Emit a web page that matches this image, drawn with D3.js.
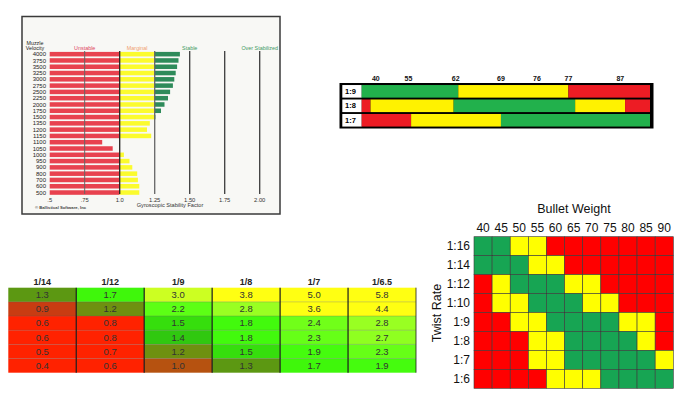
<!DOCTYPE html>
<meta charset="utf-8">
<style>
  body { margin: 0; background: #fff; }
  text { font-family: "Liberation Sans", Arial, sans-serif; }
</style>
<body>
<script src="https://cdn.jsdelivr.net/npm/d3@7"></script>
<script>

// ---- chart 1: gyroscopic stability by muzzle velocity
var velocities = ["4000","3750","3500","3250","3000","2750","2500","2250","2000","1750","1500",
                  "1350","1200","1150","1100","1050","1000","950","900","800","700","600","500"];
var stability = [1.43,1.42,1.41,1.40,1.39,1.38,1.36,1.345,1.32,1.295,1.255,
                 1.215,1.195,1.225,0.875,0.95,1.03,1.07,1.09,1.125,1.13,1.14,1.14];
var sgTicks = [0.5,0.75,1.0,1.25,1.5,1.75,2.0];
var sgTickLabels = [".5",".75","1.0","1.25","1.50","1.75","2.00"];
var zones = [
  {name:"Unstable", at:0.75, color:"#e0465e"},
  {name:"Marginal", at:1.125, color:"#f0a070"},
  {name:"Stable", at:1.5, color:"#3e9a64"},
  {name:"Over Stabilized", at:2.0, color:"#3e9a64"}
];

// ---- chart 2: twist vs bullet weight strips
var twists2 = ["1:9","1:8","1:7"];
var weightTicks = [40,55,62,69,76,77,87];
var strips = {
  "1:9": [["g",36,62.4],["y",62.4,77],["r",77,92]],
  "1:8": [["r",36,38.5],["y",38.5,61.7],["g",61.7,78.3],["y",78.3,87.8],["r",87.8,92]],
  "1:7": [["r",36,55.4],["y",55.4,69],["g",69,92]]
};

// ---- chart 3: stability table
var tableCols = ["1/14","1/12","1/9","1/8","1/7","1/6.5"];
var tableRows = [
  [1.3,1.7,3.0,3.8,5.0,5.8],
  [0.9,1.2,2.2,2.8,3.6,4.4],
  [0.6,0.8,1.5,1.8,2.4,2.8],
  [0.6,0.8,1.4,1.8,2.3,2.7],
  [0.5,0.7,1.2,1.5,1.9,2.3],
  [0.4,0.6,1.0,1.3,1.7,1.9]
];

// ---- chart 4: twist rate x bullet weight grid
var weights4 = ["40","45","50","55","60","65","70","75","80","85","90"];
var twists4 = ["1:16","1:14","1:12","1:10","1:9","1:8","1:7","1:6"];
var grid4 = [
  "GGYYRRRRRRR",
  "GGGYYRRRRRR",
  "RYGGGYYRRRR",
  "RYYGGGYYRRR",
  "RRYYGGGGYYR",
  "RRRYYGGGGYR",
  "RRRYYGGGGGY",
  "RRRRYYYGGGG"
];

var svg = d3.select("body").append("svg")
  .attr("width",680)
  .attr("height",394);

// ================= chart 1
var g1 = svg.append("g");

g1.append("rect")
  .attr("x",22).attr("y",16.5)
  .attr("width",258).attr("height",197.5)
  .attr("fill","#f8f8f5")
  .attr("stroke","#3a3a3a")
  .attr("stroke-width",1.5);

var x1 = d3.scaleLinear().domain([0.5,2.0]).range([49.7,259.7]);
var y1 = d3.scaleBand().domain(velocities).range([51.9,194.8]).paddingInner(0.28);

var segs1 = [];
velocities.forEach(function(v,i){
  var s = stability[i];
  segs1.push({v:v, a:0.5, b:Math.min(s,1.0), c:"#e8424f"});
  if (s > 1.0) segs1.push({v:v, a:1.0, b:Math.min(s,1.25), c:"#fbfb2e"});
  if (s > 1.25) segs1.push({v:v, a:1.25, b:s, c:"#2e8b5a"});
});

g1.selectAll("rect.seg")
  .data(segs1)
  .enter().append("rect")
    .attr("class","seg")
    .attr("x",function(d){ return x1(d.a); })
    .attr("y",function(d){ return y1(d.v); })
    .attr("width",function(d){ return x1(d.b) - x1(d.a); })
    .attr("height",y1.bandwidth())
    .attr("fill",function(d){ return d.c; });

g1.selectAll("line.grid")
  .data(sgTicks.slice(1))
  .enter().append("line")
    .attr("x1",function(d){ return x1(d); })
    .attr("x2",function(d){ return x1(d); })
    .attr("y1",51)
    .attr("y2",194)
    .attr("stroke",function(d){ return d === 1.0 ? "#222" : (d === 0.75 || d === 1.25 ? "#666" : "#3c3c3c"); })
    .attr("stroke-width",function(d){ return d === 0.75 ? 1 : 1.3; });

g1.selectAll("text.vel")
  .data(velocities)
  .enter().append("text")
    .attr("x",46)
    .attr("y",function(d){ return y1(d) + y1.bandwidth() / 2 + 2.1; })
    .attr("text-anchor","end")
    .attr("font-size",6)
    .attr("fill","#222")
    .text(function(d){ return d; });

g1.append("text").attr("x",35).attr("y",44.5).attr("text-anchor","middle")
  .attr("font-size",5.3).attr("fill","#222").text("Muzzle");
g1.append("text").attr("x",35).attr("y",50).attr("text-anchor","middle")
  .attr("font-size",5.3).attr("fill","#222").text("Velocity");

g1.selectAll("text.zone")
  .data(zones)
  .enter().append("text")
    .attr("x",function(d){ return x1(d.at); })
    .attr("y",50)
    .attr("text-anchor","middle")
    .attr("font-size",5.4)
    .attr("fill",function(d){ return d.color; })
    .text(function(d){ return d.name; });

g1.selectAll("text.tick")
  .data(sgTicks)
  .enter().append("text")
    .attr("x",function(d){ return x1(d); })
    .attr("y",201.5)
    .attr("text-anchor","middle")
    .attr("font-size",5.8)
    .attr("fill","#333")
    .text(function(d,i){ return sgTickLabels[i]; });

g1.append("text").attr("x",170).attr("y",207).attr("text-anchor","middle")
  .attr("font-size",5.6).attr("fill","#333").text("Gyroscopic Stability Factor");
g1.append("text").attr("x",35).attr("y",208.5)
  .attr("font-size",4.2).attr("font-weight","bold").attr("fill","#444").text("\u00a9 Ballistical Software, Inc");

// ================= chart 2
var g2 = svg.append("g");
var x2 = d3.scaleLinear()
  .domain([36].concat(weightTicks).concat([92]))
  .range([0,0.049,0.162,0.326,0.483,0.608,0.717,0.897,1].map(function(f){ return 361.7 + f * 288.3; }));
var y2 = d3.scaleBand().domain(twists2).range([84.6,127]).paddingInner(0.13).paddingOuter(0.03);
var col2 = {g:"#22b14c", y:"#fff200", r:"#ed1c24"};

g2.append("rect")
  .attr("x",339.5).attr("y",83)
  .attr("width",314).attr("height",45.5)
  .attr("fill","#000");

g2.selectAll("rect.lab")
  .data(twists2)
  .enter().append("rect")
    .attr("x",342.3)
    .attr("y",function(d){ return y2(d); })
    .attr("width",361.7 - 342.3)
    .attr("height",y2.bandwidth())
    .attr("fill","#fff");

twists2.forEach(function(t){
  g2.selectAll("rect.s" + t.replace(":",""))
    .data(strips[t])
    .enter().append("rect")
      .attr("x",function(d){ return x2(d[1]); })
      .attr("y",y2(t))
      .attr("width",function(d){ return x2(d[2]) - x2(d[1]); })
      .attr("height",y2.bandwidth())
      .attr("fill",function(d){ return col2[d[0]]; });
});

g2.selectAll("text.tw")
  .data(twists2)
  .enter().append("text")
    .attr("x",345)
    .attr("y",function(d){ return y2(d) + y2.bandwidth() / 2 + 2.6; })
    .attr("font-size",7.5)
    .attr("font-weight","bold")
    .attr("fill","#000")
    .text(function(d){ return d; });

g2.selectAll("text.wt")
  .data(weightTicks)
  .enter().append("text")
    .attr("x",function(d){ return x2(d); })
    .attr("y",81)
    .attr("text-anchor","middle")
    .attr("font-size",7)
    .attr("font-weight","bold")
    .attr("fill","#111")
    .text(function(d){ return d; });

// ================= chart 3
var g3 = svg.append("g");
var x3 = d3.scaleBand().domain(d3.range(tableCols.length)).range([8.3,416]);
var y3 = d3.scaleBand().domain(d3.range(tableRows.length)).range([287.7,372.7]);
var c3 = d3.scaleLinear()
  .domain([0.8,0.9,1.0,1.2,1.3,1.4,1.6,2.0,2.8,3.0,3.5])
  .range(["#ff2200","#c83c12","#b65210","#6e9010","#5c9812","#30c810","#3cf40a","#48ff10","#99ff22","#ccff22","#ffff12"])
  .clamp(true);

var cells3 = [];
tableRows.forEach(function(r,i){
  r.forEach(function(v,j){ cells3.push({r:i, c:j, v:v}); });
});

g3.selectAll("rect.cell")
  .data(cells3)
  .enter().append("rect")
    .attr("x",function(d){ return x3(d.c); })
    .attr("y",function(d){ return y3(d.r); })
    .attr("width",x3.bandwidth())
    .attr("height",y3.bandwidth())
    .attr("fill",function(d){ return c3(d.v); });

g3.selectAll("line.h")
  .data(d3.range(1,tableRows.length))
  .enter().append("line")
    .attr("x1",8.3).attr("x2",416)
    .attr("y1",function(d){ return y3(d); })
    .attr("y2",function(d){ return y3(d); })
    .attr("stroke","#555")
    .attr("stroke-opacity",0.35)
    .attr("stroke-width",0.8);

g3.selectAll("line.v")
  .data(d3.range(1,tableCols.length + 1))
  .enter().append("line")
    .attr("x1",function(d){ return d < tableCols.length ? x3(d) : 416; })
    .attr("x2",function(d){ return d < tableCols.length ? x3(d) : 416; })
    .attr("y1",287.7).attr("y2",372.7)
    .attr("stroke","#1a1a1a")
    .attr("stroke-width",function(d){ return d < tableCols.length ? 1.2 : 0.8; });

g3.selectAll("text.cv")
  .data(cells3)
  .enter().append("text")
    .attr("x",function(d){ return x3(d.c) + x3.bandwidth() / 2; })
    .attr("y",function(d){ return y3(d.r) + y3.bandwidth() / 2 + 3.3; })
    .attr("text-anchor","middle")
    .attr("font-size",9.5)
    .attr("fill","#333")
    .text(function(d){ return d3.format(".1f")(d.v); });

g3.selectAll("text.ch")
  .data(tableCols)
  .enter().append("text")
    .attr("x",function(d,i){ return x3(i) + x3.bandwidth() / 2; })
    .attr("y",284.5)
    .attr("text-anchor","middle")
    .attr("font-size",9)
    .attr("font-weight","bold")
    .attr("fill","#222")
    .text(function(d){ return d; });

// ================= chart 4
var g4 = svg.append("g");
var x4 = d3.scaleBand().domain(weights4).range([474,673.3]);
var y4 = d3.scaleBand().domain(twists4).range([236.7,388.3]);
var col4 = {G:"#17a553", Y:"#ffff00", R:"#ff0000"};

var cells4 = [];
grid4.forEach(function(row,i){
  row.split("").forEach(function(k,j){
    cells4.push({t:twists4[i], w:weights4[j], k:k});
  });
});

g4.selectAll("rect.cell")
  .data(cells4)
  .enter().append("rect")
    .attr("x",function(d){ return x4(d.w); })
    .attr("y",function(d){ return y4(d.t); })
    .attr("width",x4.bandwidth())
    .attr("height",y4.bandwidth())
    .attr("fill",function(d){ return col4[d.k]; })
    .attr("stroke","#3a3a3a")
    .attr("stroke-width",0.6);

g4.selectAll("text.wl")
  .data(weights4)
  .enter().append("text")
    .attr("x",function(d){ return x4(d) + x4.bandwidth() / 2; })
    .attr("y",232)
    .attr("text-anchor","middle")
    .attr("font-size",12)
    .attr("fill","#111")
    .text(function(d){ return d; });

g4.selectAll("text.tl")
  .data(twists4)
  .enter().append("text")
    .attr("x",470)
    .attr("y",function(d){ return y4(d) + y4.bandwidth() / 2 + 4.3; })
    .attr("text-anchor","end")
    .attr("font-size",12)
    .attr("fill","#111")
    .text(function(d){ return d; });

g4.append("text").attr("x",574).attr("y",212.5).attr("text-anchor","middle")
  .attr("font-size",12.5).attr("fill","#111").text("Bullet Weight");
g4.append("text")
  .attr("transform","translate(441,313) rotate(-90)")
  .attr("text-anchor","middle")
  .attr("font-size",12.5).attr("fill","#111").text("Twist Rate");

</script>
